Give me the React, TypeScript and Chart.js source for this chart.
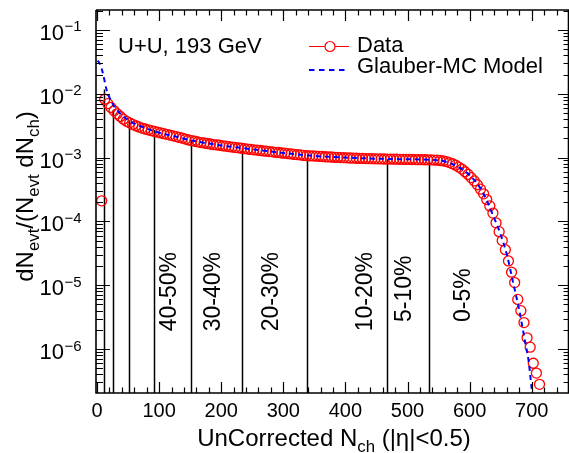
import React, { useEffect, useRef } from "react";
import { Chart, registerables } from "chart.js";

Chart.register(...registerables);

// ---- data ----
const nchBins = [
  7.5, 12.5, 17.5, 22.5, 27.5, 32.5, 37.5, 42.5, 47.5, 52.5,
  57.5, 62.5, 67.5, 72.5, 77.5, 82.5, 87.5, 92.5, 97.5, 102.5,
  107.5, 112.5, 117.5, 122.5, 127.5, 132.5, 137.5, 142.5, 147.5, 152.5,
  157.5, 162.5, 167.5, 172.5, 177.5, 182.5, 187.5, 192.5, 197.5, 202.5,
  207.5, 212.5, 217.5, 222.5, 227.5, 232.5, 237.5, 242.5, 247.5, 252.5,
  257.5, 262.5, 267.5, 272.5, 277.5, 282.5, 287.5, 292.5, 297.5, 302.5,
  307.5, 312.5, 317.5, 322.5, 327.5, 332.5, 337.5, 342.5, 347.5, 352.5,
  357.5, 362.5, 367.5, 372.5, 377.5, 382.5, 387.5, 392.5, 397.5, 402.5,
  407.5, 412.5, 417.5, 422.5, 427.5, 432.5, 437.5, 442.5, 447.5, 452.5,
  457.5, 462.5, 467.5, 472.5, 477.5, 482.5, 487.5, 492.5, 497.5, 502.5,
  507.5, 512.5, 517.5, 522.5, 527.5, 532.5, 537.5, 542.5, 547.5, 552.5,
  557.5, 562.5, 567.5, 572.5, 577.5, 582.5, 587.5, 592.5, 597.5, 602.5,
  607.5, 612.5, 617.5, 622.5, 627.5, 632.5, 637.5, 642.5, 647.5, 652.5,
  657.5, 662.5, 667.5, 672.5, 677.5, 682.5, 687.5, 692.5, 697.5, 702.5,
  707.5, 712.5,
];

const dataValues = [
  2.1e-4, 8.2e-3, 7.0e-3, 6.1e-3, 5.4e-3, 4.85e-3, 4.4e-3, 4.0e-3, 3.7e-3, 3.5e-3,
  3.3e-3, 3.15e-3, 3.02e-3, 2.9e-3, 2.8e-3, 2.72e-3, 2.64e-3, 2.57e-3, 2.5e-3, 2.43e-3,
  2.37e-3, 2.31e-3, 2.25e-3, 2.19e-3, 2.13e-3, 2.07e-3, 2.01e-3, 1.95e-3, 1.89e-3, 1.84e-3,
  1.8e-3, 1.76e-3, 1.72e-3, 1.69e-3, 1.66e-3, 1.63e-3, 1.6e-3, 1.58e-3, 1.56e-3, 1.53e-3,
  1.51e-3, 1.48e-3, 1.46e-3, 1.44e-3, 1.42e-3, 1.4e-3, 1.38e-3, 1.36e-3, 1.34e-3, 1.32e-3,
  1.31e-3, 1.29e-3, 1.27e-3, 1.26e-3, 1.24e-3, 1.23e-3, 1.21e-3, 1.2e-3, 1.18e-3, 1.17e-3,
  1.15e-3, 1.14e-3, 1.12e-3, 1.11e-3, 1.1e-3, 1.08e-3, 1.07e-3, 1.065e-3, 1.06e-3, 1.05e-3,
  1.045e-3, 1.04e-3, 1.03e-3, 1.025e-3, 1.02e-3, 1.01e-3, 1.005e-3, 1.0e-3, 9.95e-4, 9.9e-4,
  9.85e-4, 9.8e-4, 9.75e-4, 9.7e-4, 9.68e-4, 9.65e-4, 9.62e-4, 9.6e-4, 9.57e-4, 9.55e-4,
  9.52e-4, 9.5e-4, 9.48e-4, 9.46e-4, 9.44e-4, 9.42e-4, 9.4e-4, 9.38e-4, 9.36e-4, 9.34e-4,
  9.32e-4, 9.3e-4, 9.28e-4, 9.26e-4, 9.24e-4, 9.22e-4, 9.2e-4, 9.15e-4, 9.1e-4, 9.0e-4,
  8.85e-4, 8.65e-4, 8.35e-4, 8.0e-4, 7.6e-4, 7.1e-4, 6.6e-4, 6.0e-4, 5.45e-4, 4.85e-4,
  4.3e-4, 3.75e-4, 3.2e-4, 2.7e-4, 2.2e-4, 1.75e-4, 1.35e-4, 9.5e-5, 6.9e-5, 5.0e-5,
  3.6e-5, 2.4e-5, 1.6e-5, 1.1e-5, 6.0e-6, 4.0e-6, 2.6e-6, 1.5e-6, 1.07e-6, 6.0e-7,
  4.2e-7, 2.8e-7,
];

const glauberNch = [
  1, 5, 10, 15, 20, 25, 30, 40, 50, 60, 80, 100, 125, 150, 200, 250, 300, 350,
  400, 450, 500, 540, 560, 580, 600, 620, 640, 650, 660, 670, 680, 690, 695, 700, 703,
];
const glauberValues = [
  0.033, 0.029, 0.02, 0.012, 8.8e-3, 7.0e-3, 5.9e-3, 4.6e-3, 3.9e-3, 3.4e-3, 2.85e-3,
  2.45e-3, 2.15e-3, 1.87e-3, 1.55e-3, 1.35e-3, 1.18e-3, 1.06e-3, 1.0e-3, 9.6e-4, 9.4e-4,
  9.2e-4, 8.7e-4, 7.3e-4, 5.3e-4, 3.0e-4, 1.1e-4, 6.2e-5, 3.0e-5, 1.1e-5, 4.0e-6,
  1.2e-6, 6.5e-7, 2.4e-7, 1.6e-7,
];

const cutNch = [11, 26, 52, 91, 151, 233, 338, 467, 535];
const cutTop = [0.0117, 5.6e-3, 3.8e-3, 2.7e-3, 1.82e-3, 1.4e-3, 1.03e-3, 9.4e-4, 8.9e-4];

const centLabels = ["40-50%", "30-40%", "20-30%", "10-20%", "5-10%", "0-5%"];

const xTickValues = [0, 100, 200, 300, 400, 500, 600, 700];
const yTickExponents = [-1, -2, -3, -4, -5, -6];

const FONT = '"Liberation Sans", Arial, Helvetica, sans-serif';

// label placement (annotation positions, data units)
const centLabelPos = [
  { x: 117.5, y: 1.9e-6 },
  { x: 188, y: 1.9e-6 },
  { x: 281.5, y: 1.9e-6 },
  { x: 433, y: 1.9e-6 },
  { x: 495.5, y: 2.65e-6 },
  { x: 590.5, y: 2.65e-6 },
];

type Part = { t: string; sub?: boolean; sup?: boolean };

function drawRich(ctx: CanvasRenderingContext2D, parts: Part[], x: number, y: number, size: number, align: "left" | "center" | "right") {
  const small = size * 0.7;
  let total = 0;
  const widths: number[] = [];
  parts.forEach((p) => {
    ctx.font = `${p.sub || p.sup ? small : size}px ${FONT}`;
    const w = ctx.measureText(p.t).width;
    widths.push(w);
    total += w;
  });
  let cx = align === "left" ? x : align === "center" ? x - total / 2 : x - total;
  ctx.textAlign = "left";
  ctx.textBaseline = "alphabetic";
  parts.forEach((p, i) => {
    ctx.font = `${p.sub || p.sup ? small : size}px ${FONT}`;
    const dy = p.sub ? size * 0.25 : p.sup ? -size * 0.42 : 0;
    ctx.fillText(p.t, cx, y + dy);
    cx += widths[i];
  });
}

const rootPlugin = {
  id: "rootStyle",
  beforeDatasetsDraw(chart: any) {
    const { ctx } = chart;
    const xs = chart.scales.x;
    const ys = chart.scales.y;
    ctx.save();
    ctx.strokeStyle = "#000";
    ctx.lineWidth = 1.5;
    cutNch.forEach((n, i) => {
      const px = Math.round(xs.getPixelForValue(n)) + 0.5;
      ctx.beginPath();
      ctx.moveTo(px, chart.chartArea.bottom);
      ctx.lineTo(px, ys.getPixelForValue(cutTop[i]));
      ctx.stroke();
    });
    ctx.restore();
  },
  afterDraw(chart: any) {
    const { ctx, chartArea } = chart;
    const xs = chart.scales.x;
    const ys = chart.scales.y;
    const { left, right, top, bottom } = chartArea;
    ctx.save();
    ctx.fillStyle = "#000";
    ctx.strokeStyle = "#000";

    // frame
    ctx.lineWidth = 1.6;
    ctx.beginPath();
    ctx.moveTo(left, top);
    ctx.lineTo(right, top);
    ctx.moveTo(left, top);
    ctx.lineTo(left, bottom);
    ctx.lineTo(right, bottom);
    ctx.moveTo(right - 0.5, top);
    ctx.lineTo(right - 0.5, bottom);
    ctx.stroke();

    // x ticks
    ctx.lineWidth = 1.2;
    ctx.beginPath();
    for (let v = 0; v <= xs.max; v += 20) {
      const px = Math.round(xs.getPixelForValue(v)) + 0.5;
      const major = v % 100 === 0;
      const len = major ? 11 : 5.5;
      ctx.moveTo(px, bottom);
      ctx.lineTo(px, bottom - len);
      ctx.moveTo(px, top);
      ctx.lineTo(px, top + len);
    }
    ctx.stroke();

    // y ticks
    ctx.beginPath();
    for (let d = -7; d <= -1; d++) {
      for (let m = 1; m <= 9; m++) {
        const v = m * Math.pow(10, d);
        if (v < ys.min || v > ys.max) continue;
        const py = Math.round(ys.getPixelForValue(v)) + 0.5;
        const major = m === 1;
        ctx.moveTo(left, py);
        ctx.lineTo(left + (major ? 14 : 7), py);
        ctx.moveTo(right, py);
        ctx.lineTo(right - (major ? 11 : 5.5), py);
      }
    }
    ctx.stroke();

    // x tick labels
    ctx.font = `20px ${FONT}`;
    ctx.textAlign = "center";
    ctx.textBaseline = "alphabetic";
    xTickValues.forEach((v) => {
      ctx.fillText(String(v), xs.getPixelForValue(v), 417);
    });

    // y tick labels
    yTickExponents.forEach((e) => {
      const py = ys.getPixelForValue(Math.pow(10, e));
      ctx.font = `22px ${FONT}`;
      const w1 = ctx.measureText("10").width;
      ctx.font = `15px ${FONT}`;
      const expTxt = "\u2212" + Math.abs(e);
      const w2 = ctx.measureText(expTxt).width;
      const x0 = 81 - w1 - w2;
      ctx.textAlign = "left";
      ctx.font = `22px ${FONT}`;
      ctx.fillText("10", x0, py + 10);
      ctx.font = `15px ${FONT}`;
      ctx.fillText(expTxt, x0 + w1 + 0.5, py + 1.5);
    });

    // x title
    drawRich(
      ctx,
      [{ t: "UnCorrected N" }, { t: "ch", sub: true }, { t: " (|\u03b7|<0.5)" }],
      334,
      446,
      24,
      "center"
    );

    // y title
    ctx.save();
    ctx.translate(33, 196.5);
    ctx.rotate(-Math.PI / 2);
    drawRich(
      ctx,
      [
        { t: "dN" },
        { t: "evt", sub: true },
        { t: "/(N" },
        { t: "evt", sub: true },
        { t: " dN" },
        { t: "ch", sub: true },
        { t: ")" },
      ],
      0,
      0,
      24,
      "center"
    );
    ctx.restore();

    // centrality labels
    ctx.font = `23px ${FONT}`;
    centLabels.forEach((lab, i) => {
      const p = centLabelPos[i];
      ctx.save();
      ctx.translate(xs.getPixelForValue(p.x), ys.getPixelForValue(p.y));
      ctx.rotate(-Math.PI / 2);
      ctx.textAlign = "left";
      ctx.textBaseline = "middle";
      ctx.fillText(lab, 0, 0);
      ctx.restore();
    });

    // system label
    ctx.font = `22px ${FONT}`;
    ctx.textAlign = "left";
    ctx.textBaseline = "alphabetic";
    ctx.fillText("U+U, 193 GeV", 118, 53);

    // legend
    ctx.fillText("Data", 357, 52);
    ctx.fillText("Glauber-MC Model", 357, 73);
    ctx.strokeStyle = "#ff0000";
    ctx.lineWidth = 1.2;
    ctx.beginPath();
    ctx.moveTo(309, 46.5);
    ctx.lineTo(349, 46.5);
    ctx.stroke();
    ctx.beginPath();
    ctx.arc(330, 46.5, 5, 0, Math.PI * 2);
    ctx.fillStyle = "#fff";
    ctx.fill();
    ctx.stroke();
    ctx.strokeStyle = "#0000ff";
    ctx.lineWidth = 2;
    ctx.setLineDash([5.5, 4.5]);
    ctx.beginPath();
    ctx.moveTo(309, 70);
    ctx.lineTo(346, 70);
    ctx.stroke();
    ctx.setLineDash([]);
    ctx.restore();
  },
};

export default function App() {
  const ref = useRef<HTMLCanvasElement | null>(null);
  useEffect(() => {
    document.body.style.margin = "0";
    document.body.style.overflow = "hidden";
    if (!ref.current) return;
    const chart = new Chart(ref.current, {
      type: "scatter",
      data: {
        datasets: [
          {
            label: "Glauber-MC Model",
            data: glauberNch.map((x, i) => ({ x, y: glauberValues[i] })),
            showLine: true,
            borderColor: "#0000ff",
            borderWidth: 2,
            borderDash: [5, 4],
            pointRadius: 0,
            cubicInterpolationMode: "monotone",
            fill: false,
          },
          {
            label: "Data",
            data: nchBins.map((x, i) => ({ x, y: dataValues[i] })),
            showLine: false,
            pointStyle: "circle",
            pointRadius: 5,
            pointBorderWidth: 1.3,
            borderColor: "#ff0000",
            backgroundColor: "rgba(0,0,0,0)",
            pointBackgroundColor: "rgba(0,0,0,0)",
            pointBorderColor: "#ff0000",
          },
        ],
      },
      options: {
        animation: false,
        responsive: false,
        devicePixelRatio: 1,
        layout: { autoPadding: false, padding: { left: 96, top: 10, right: 0, bottom: 60 } },
        plugins: { legend: { display: false }, tooltip: { enabled: false } },
        events: [],
        scales: {
          x: { type: "linear", min: -1.6, max: 760, display: false },
          y: { type: "logarithmic", min: 2.05e-7, max: 0.205, display: false },
        },
      },
      plugins: [rootPlugin],
    });
    return () => chart.destroy();
  }, []);
  return (
    <div style={{ position: "absolute", left: 0, top: 0, width: 569, height: 453, background: "#fff" }}>
      <canvas ref={ref} width={569} height={453} />
    </div>
  );
}
